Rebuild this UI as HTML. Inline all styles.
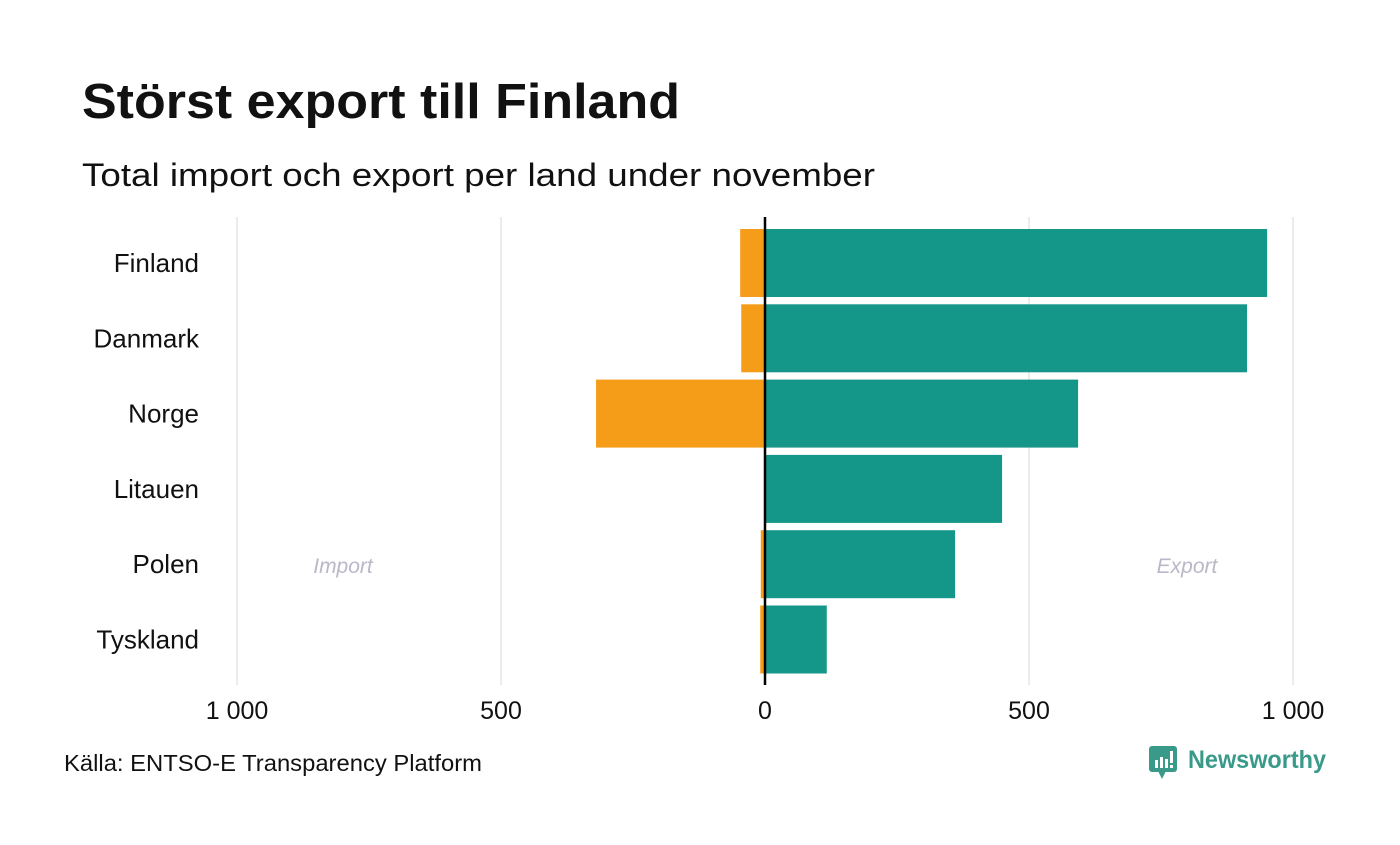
<!DOCTYPE html>
<html><head><meta charset="utf-8"><style>
body{margin:0;background:#fff;width:1400px;height:840px;overflow:hidden;font-family:"Liberation Sans","DejaVu Sans",sans-serif}
</style></head><body>
<svg width="1400" height="840" xmlns="http://www.w3.org/2000/svg">
<text x="82" y="118" font-size="49" font-weight="bold" fill="#111" textLength="598" lengthAdjust="spacingAndGlyphs">Störst export till Finland</text>
<text x="82" y="186" font-size="32" fill="#111" textLength="793" lengthAdjust="spacingAndGlyphs">Total import och export per land under november</text>
<g id="grid"></g>
<g id="bars"></g>
<text x="343" y="573" font-size="21" font-style="italic" fill="#b8b8c8" text-anchor="middle">Import</text>
<text x="1187" y="573" font-size="21" font-style="italic" fill="#b8b8c8" text-anchor="middle">Export</text>
<line x1="765" x2="765" y1="217" y2="685" stroke="#000" stroke-width="2.5"/>
<text x="64" y="771" font-size="23" fill="#111" textLength="418" lengthAdjust="spacingAndGlyphs">Källa: ENTSO-E Transparency Platform</text>
<g>
<rect x="1149" y="746" width="28" height="26" rx="3" fill="#3a9a8a"/>
<polygon points="1158,771 1166,771 1162,779" fill="#3a9a8a"/>
<rect x="1155" y="760" width="3" height="8" fill="#fff"/><rect x="1160" y="757" width="3" height="11" fill="#fff"/><rect x="1165" y="759" width="3" height="9" fill="#fff"/><rect x="1170" y="751" width="3" height="12" fill="#fff"/><rect x="1170" y="765" width="3" height="3" fill="#fff"/>
<text x="1188" y="768" font-size="25" font-weight="bold" fill="#3a9a8a" textLength="138" lengthAdjust="spacingAndGlyphs">Newsworthy</text>
</g>
</svg>
<script>
const countries=["Finland","Danmark","Norge","Litauen","Polen","Tyskland"];
const exportVals=[951,913,593,449,360,117];
const importVals=[47,45,320,0,8,9];
const ticks=[-1000,-500,0,500,1000];
const tickLabels=["1 000","500","0","500","1 000"];
const NS="http://www.w3.org/2000/svg";
const x=v=>765+v*0.528;
const rowY=i=>229+i*75.3;
const bh=68;
const grid=document.getElementById('grid'),bars=document.getElementById('bars');
function mk(tag,attrs,parent){const e=document.createElementNS(NS,tag);for(const k in attrs)e.setAttribute(k,attrs[k]);parent.appendChild(e);return e;}
ticks.forEach((t,i)=>{
 const l=mk('line',{x1:x(t),x2:x(t),y1:217,y2:685,stroke:'#e6e6e6','stroke-width':1.5},grid);
 
 
 const tx=mk('text',{x:x(t),y:719,'font-size':25,'text-anchor':'middle',fill:'#111'},grid);
 tx.textContent=tickLabels[i];
 
 
});
countries.forEach((c,i)=>{
 const y=rowY(i);
 const lab=mk('text',{x:199,y:y+bh/2+9,'font-size':26,'text-anchor':'end',fill:'#111'},bars);
 lab.textContent=c;
 
 
 const e=mk('rect',{x:x(0),y:y,width:x(exportVals[i])-x(0),height:bh,fill:'#149688'},bars);
 
 
 const im=mk('rect',{x:x(-importVals[i]),y:y,width:x(0)-x(-importVals[i]),height:bh,fill:'#f59c18'},bars);
 
 
});
</script>
</body></html>
